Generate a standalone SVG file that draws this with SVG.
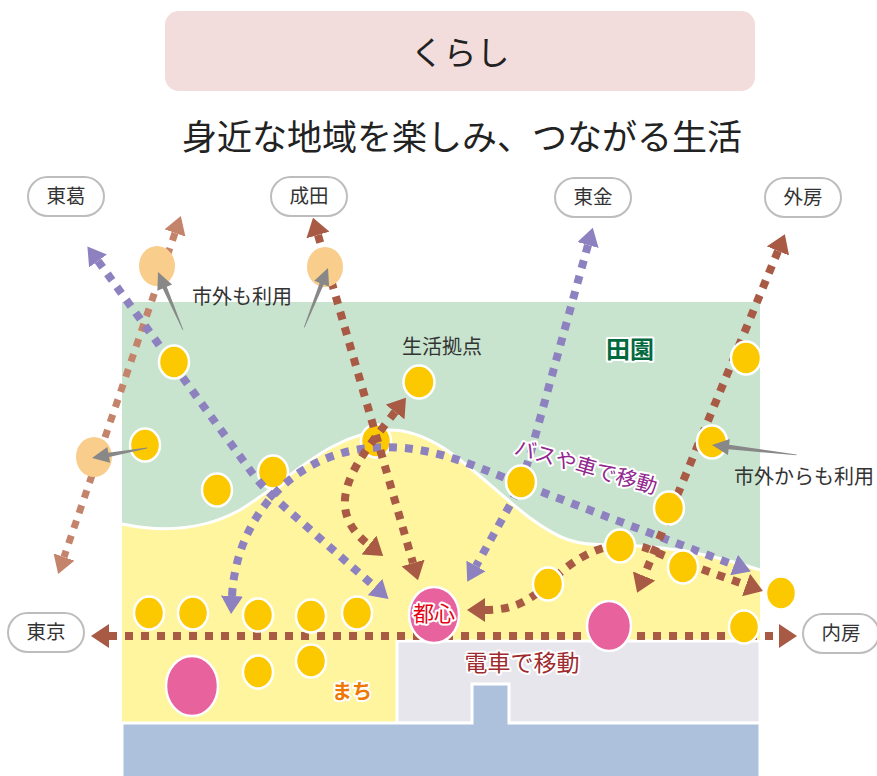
<svg xmlns="http://www.w3.org/2000/svg" width="877" height="776" viewBox="0 0 877 776">
<style>
text{font-family:"Noto Sans CJK JP","Noto Sans",sans-serif;}
.pill rect{fill:#fff;stroke:#bdbdbd;stroke-width:2;}
.pill text{font-size:19.5px;fill:#333;text-anchor:middle;}
.lbl{font-size:20px;fill:#333;text-anchor:middle;}
.ol{paint-order:stroke;stroke:#fff;stroke-width:4;stroke-linejoin:round;text-anchor:middle;}
.y{fill:#fcc800;stroke:#fff;stroke-width:2.5;}
.o{fill:#f9cd8b;}
.pk{fill:#e8629e;stroke:#fff;stroke-width:2.5;}
.pu{fill:none;stroke:#8d81bf;stroke-width:8;stroke-dasharray:8 8;marker-start:url(#mp);marker-end:url(#mp);}
.br{fill:none;stroke:#a85a45;stroke-width:8;stroke-dasharray:8 8;marker-start:url(#mb);marker-end:url(#mb);}
.lb{fill:none;stroke:#c4836b;stroke-width:7;stroke-dasharray:8 8;marker-start:url(#ml);marker-end:url(#ml);}
.ga{fill:#888;}
</style>
<defs>
<marker id="mp" viewBox="0 0 18 22" refX="0" refY="11" markerWidth="18" markerHeight="22" markerUnits="userSpaceOnUse" orient="auto-start-reverse"><path d="M0 0 L18 11 L0 22 Z" fill="#8d81bf"/></marker>
<marker id="mb" viewBox="0 0 18 24" refX="0" refY="12" markerWidth="18" markerHeight="24" markerUnits="userSpaceOnUse" orient="auto-start-reverse"><path d="M0 0 L18 12 L0 24 Z" fill="#a85a45"/></marker>
<marker id="ml" viewBox="0 0 18 22" refX="0" refY="11" markerWidth="18" markerHeight="22" markerUnits="userSpaceOnUse" orient="auto-start-reverse"><path d="M0 0 L18 11 L0 22 Z" fill="#c4836b"/></marker>
</defs>

<!-- header -->
<g id="title">
<rect x="165" y="11" width="590" height="80" rx="14" fill="#f2dcdc"/>
<text x="460" y="65" font-size="33" text-anchor="middle" fill="#222">くらし</text>
</g>
<g id="subtitle">
<text x="462" y="150" font-size="35" text-anchor="middle" fill="#222">身近な地域を楽しみ、つながる生活</text>
</g>

<!-- areas -->
<g id="areas">
<rect x="122" y="302" width="638" height="280" fill="#c8e4cf"/>
<path d="M122 524 C160 532 200 532 240 510 C290 480 330 432 390 430 C440 430 480 480 530 518 C560 540 575 545 610 545 C650 545 700 550 760 570 L760 641 L397 641 L397 722 L122 722 Z" fill="#fff59e"/>
<path d="M122 524 C160 532 200 532 240 510 C290 480 330 432 390 430 C440 430 480 480 530 518 C560 540 575 545 610 545 C650 545 700 550 760 570" fill="none" stroke="#fff" stroke-width="3"/>
<rect x="397" y="641" width="363" height="82" fill="#e7e6ec" stroke="#fff" stroke-width="3"/>
<path d="M122 723 H472 V684 H509 V723 H760 V778 H122 Z" fill="#adc1dc" stroke="#fff" stroke-width="3"/>
</g>

<!-- nodes under connectors -->
<g id="node-hub">
<ellipse class="y" cx="376" cy="441" rx="15" ry="16.5"/>
<ellipse class="y" cx="273" cy="472" rx="15" ry="16.5"/>
</g>

<!-- connectors -->
<g id="connectors">
<path class="lb" d="M175 233 L64 557"/>
<path class="pu" d="M98 261 L250 470 Q262 487 280 503 L375 587"/>
<path class="pu" d="M588 245 L530 455 Q522 482 510 505 L476 566"/>
<path class="pu" d="M232 596 C236 520 290 455 370 448 C430 443 470 465 521 484 L734 565"/>
<path class="br" d="M318 235 L413 563"/>
<path class="br" d="M778 251 L644 576"/>
<path class="br" d="M395 412 C358 460 318 505 369 545"/>
<path class="br" d="M485 610 C515 610 530 600 548 584 C570 562 595 545 625 545 C645 545 650 550 665 556 L746 585"/>
<path class="br" d="M109 636 H779"/>
</g>

<!-- nodes -->
<g id="nodes-outer">
<ellipse class="o" cx="157" cy="266" rx="18" ry="20"/>
<ellipse class="o" cx="325" cy="267" rx="18" ry="20"/>
<ellipse class="o" cx="94" cy="457" rx="18" ry="20"/>
</g>
<g id="nodes-town">
<ellipse class="y" cx="174" cy="362" rx="15" ry="16.5"/>
<ellipse class="y" cx="419" cy="382" rx="15.5" ry="16.5"/>
<ellipse class="y" cx="145" cy="445" rx="15" ry="16.5"/>
<ellipse class="y" cx="217" cy="490" rx="15" ry="16.5"/>
<ellipse class="y" cx="746" cy="358" rx="15" ry="16.5"/>
<ellipse class="y" cx="712" cy="442" rx="15" ry="16.5"/>
<ellipse class="y" cx="521" cy="482" rx="15" ry="16.5"/>
<ellipse class="y" cx="669" cy="508" rx="15" ry="16.5"/>
<ellipse class="y" cx="620" cy="546" rx="15" ry="16.5"/>
<ellipse class="y" cx="683" cy="567" rx="15" ry="16.5"/>
<ellipse class="y" cx="548" cy="584" rx="15" ry="16.5"/>
<ellipse class="y" cx="781" cy="593" rx="15" ry="16.5"/>
<ellipse class="y" cx="744" cy="627" rx="15" ry="16.5"/>
<ellipse class="y" cx="149" cy="613" rx="15" ry="16.5"/>
<ellipse class="y" cx="193" cy="613" rx="15" ry="16.5"/>
<ellipse class="y" cx="258" cy="615" rx="15" ry="16.5"/>
<ellipse class="y" cx="311" cy="616" rx="15" ry="16.5"/>
<ellipse class="y" cx="357" cy="613" rx="15" ry="16.5"/>
<ellipse class="y" cx="258" cy="672" rx="15" ry="16.5"/>
<ellipse class="y" cx="311" cy="661" rx="15" ry="16.5"/>
</g>
<g id="node-toshin">
<ellipse class="pk" cx="434" cy="615" rx="25" ry="28"/>
<text x="434" y="621" font-size="21" class="ol" fill="#e60012">都心</text>
</g>
<g id="node-pink2"><ellipse class="pk" cx="609" cy="626" rx="22" ry="25"/></g>
<g id="node-pink3"><ellipse class="pk" cx="192" cy="686" rx="26" ry="30"/></g>

<!-- gray pointer arrows -->
<g id="pointers" class="ga">
<path transform="translate(158 272) rotate(66.7)" d="M0 0 L17 -8 L17 -2.2 L63 -0.4 L63 0.4 L17 2.2 L17 8 Z"/>
<path transform="translate(328 268) rotate(111.8)" d="M0 0 L17 -8 L17 -2.2 L64 -0.4 L64 0.4 L17 2.2 L17 8 Z"/>
<path transform="translate(92 458) rotate(-10.3)" d="M0 0 L17 -8 L17 -2.2 L56 -0.4 L56 0.4 L17 2.2 L17 8 Z"/>
<path transform="translate(712 445) rotate(6.7)" d="M0 0 L17 -8 L17 -2.2 L85 -0.4 L85 0.4 L17 2.2 L17 8 Z"/>
</g>

<!-- destination pills -->
<g id="n-toukatsu" class="pill"><rect x="28" y="177" width="76" height="39" rx="19.5"/><text x="66" y="203">東葛</text></g>
<g id="n-narita" class="pill"><rect x="271" y="177" width="76" height="39" rx="19.5"/><text x="309" y="203">成田</text></g>
<g id="n-tougane" class="pill"><rect x="555" y="178" width="76" height="39" rx="19.5"/><text x="593" y="204">東金</text></g>
<g id="n-sotobo" class="pill"><rect x="765" y="178" width="76" height="39" rx="19.5"/><text x="803" y="204">外房</text></g>
<g id="n-tokyo" class="pill"><rect x="8" y="613" width="76" height="39" rx="19.5"/><text x="46" y="639">東京</text></g>
<g id="n-uchibo" class="pill"><rect x="803" y="614" width="76" height="39" rx="19.5"/><text x="841" y="640">内房</text></g>

<!-- labels -->
<g id="labels">
<text class="lbl" x="242" y="304">市外も利用</text>
<text class="lbl" x="442" y="354">生活拠点</text>
<text class="lbl" x="804" y="484">市外からも利用</text>
<text class="ol" x="630" y="358" font-size="24" font-weight="bold" fill="#00693e">田園</text>
<text class="ol" x="352" y="699" font-size="20" font-weight="bold" fill="#ee7800">まち</text>
<text class="ol" x="522" y="671" font-size="23" fill="#9e2b2e">電車で移動</text>
<text class="ol" transform="translate(584 474) rotate(16)" x="0" y="0" font-size="21" fill="#92278f">バスや車で移動</text>
</g>
</svg>
